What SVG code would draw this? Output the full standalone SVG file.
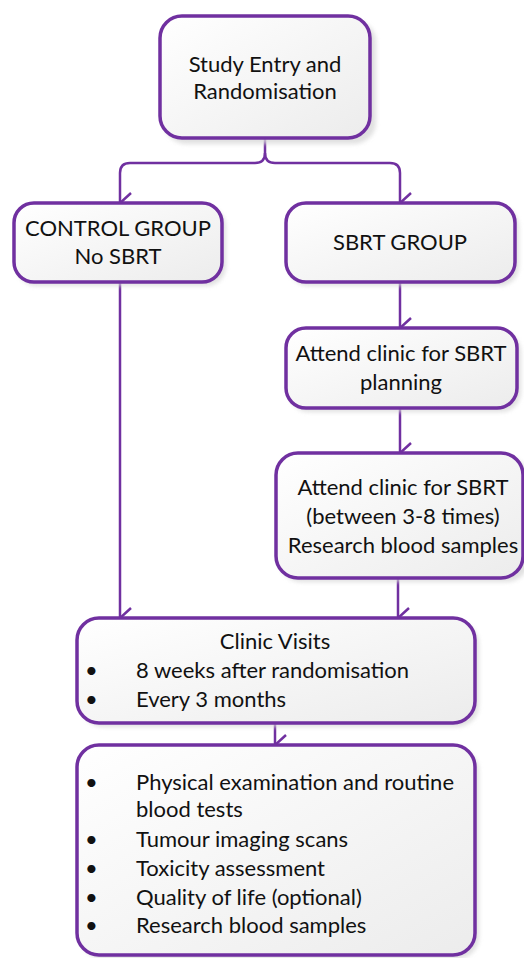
<svg xmlns="http://www.w3.org/2000/svg" width="524" height="958" viewBox="0 0 524 958">
<defs>
<linearGradient id="g" x1="0" y1="0" x2="1" y2="1">
<stop offset="0" stop-color="#ffffff"/>
<stop offset="1" stop-color="#ececec"/>
</linearGradient>
<filter id="sh" x="-10%" y="-10%" width="130%" height="130%">
<feGaussianBlur stdDeviation="2"/>
</filter>
<marker id="ah" viewBox="0 0 24 14" refX="12" refY="13" markerWidth="24" markerHeight="14" markerUnits="userSpaceOnUse" orient="auto-start-reverse">
<path d="M2,2 L12,13 L22,2" fill="none" stroke="#7030A0" stroke-width="2.5"/>
</marker>
</defs>
<style>
.shadow{fill:#d9d9d9;filter:url(#sh);opacity:0.8}
.box{fill:url(#g);stroke:#7030A0;stroke-width:3.5}
.t{font-family:Lato,"Open Sans",sans-serif;font-size:22px;fill:#111}
.c{text-anchor:middle}
.con{fill:none;stroke:#7030A0;stroke-width:2.5}
</style>
<g id="connectors">
<path class="con" d="M265,138 V153 Q265,163 255,163 H130 Q120,163 120,173 V203" marker-end="url(#ah)"/>
<path class="con" d="M265,153 Q265,163 275,163 H390 Q400,163 400,173 V203" marker-end="url(#ah)"/>
<path class="con" d="M400,282 V328" marker-end="url(#ah)"/>
<path class="con" d="M400,408 V453" marker-end="url(#ah)"/>
<path class="con" d="M120,282 V618" marker-end="url(#ah)"/>
<path class="con" d="M398,578 V618" marker-end="url(#ah)"/>
<path class="con" d="M275,723 V745" marker-end="url(#ah)"/>
</g>
<g id="start">
<rect class="shadow" x="164" y="20" width="212" height="124" rx="22"/>
<rect class="box" x="160" y="16" width="210" height="122" rx="22"/>
<text class="t c" x="265" y="72">Study Entry and</text>
<text class="t c" x="265" y="99">Randomisation</text>
</g>
<g id="control">
<rect class="shadow" x="17" y="207" width="209" height="79" rx="20"/>
<rect class="box" x="14" y="203" width="208" height="79" rx="20"/>
<text class="t c" x="118" y="236">CONTROL GROUP</text>
<text class="t c" x="118" y="264">No SBRT</text>
</g>
<g id="sbrt">
<rect class="shadow" x="289" y="207" width="230" height="79" rx="20"/>
<rect class="box" x="286" y="203" width="229" height="79" rx="20"/>
<text class="t c" x="400" y="250">SBRT GROUP</text>
</g>
<g id="planning">
<rect class="shadow" x="289" y="332" width="232" height="80" rx="20"/>
<rect class="box" x="286" y="328" width="231" height="80" rx="20"/>
<text class="t c" x="401" y="361">Attend clinic for SBRT</text>
<text class="t c" x="401" y="390">planning</text>
</g>
<g id="treatment">
<rect class="shadow" x="279" y="457" width="250" height="125" rx="22"/>
<rect class="box" x="276" y="453" width="247" height="125" rx="22"/>
<text class="t c" x="403" y="495">Attend clinic for SBRT</text>
<text class="t c" x="403" y="524">(between 3-8 times)</text>
<text class="t c" x="403" y="553">Research blood samples</text>
</g>
<g id="clinic">
<rect class="shadow" x="81" y="622" width="398" height="105" rx="22"/>
<rect class="box" x="77" y="618" width="398" height="105" rx="22"/>
<text class="t c" x="275" y="649">Clinic Visits</text>
<text class="t" x="85" y="678">•</text>
<text class="t" x="136" y="678">8 weeks after randomisation</text>
<text class="t" x="85" y="707">•</text>
<text class="t" x="136" y="707">Every 3 months</text>
</g>
<g id="followup">
<rect class="shadow" x="81" y="749" width="398" height="210" rx="22"/>
<rect class="box" x="77" y="745" width="398" height="210" rx="22"/>
<text class="t" x="85" y="790">•</text>
<text class="t" x="136" y="790">Physical examination and routine</text>
<text class="t" x="136" y="817">blood tests</text>
<text class="t" x="85" y="847">•</text>
<text class="t" x="136" y="847">Tumour imaging scans</text>
<text class="t" x="85" y="876">•</text>
<text class="t" x="136" y="876">Toxicity assessment</text>
<text class="t" x="85" y="905">•</text>
<text class="t" x="136" y="905">Quality of life (optional)</text>
<text class="t" x="85" y="933">•</text>
<text class="t" x="136" y="933">Research blood samples</text>
</g>
</svg>
